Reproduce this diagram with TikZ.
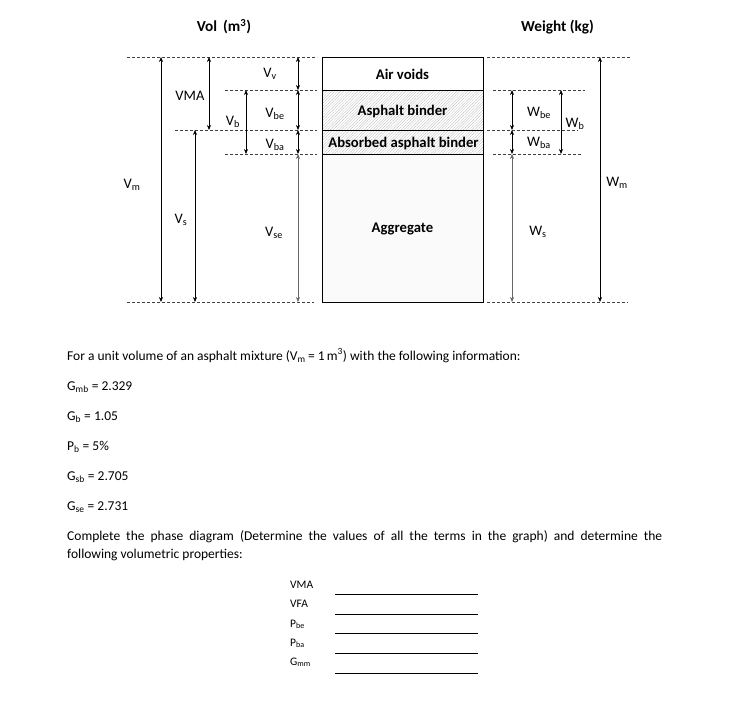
\documentclass[tikz,border=0pt]{standalone}
\usepackage{fontspec}
\setmainfont{Carlito}
\usetikzlibrary{arrows.meta,patterns.meta}
\begin{document}
\begin{tikzpicture}[x=1pt,y=-1pt,
  dashln/.style={draw=black!75,dash pattern=on 3pt off 2pt,line width=0.5pt},
  dim/.style={line width=0.6pt,{Stealth[length=5pt,width=4pt]}-{Stealth[length=5pt,width=4pt]}},
  dimg/.style={dim,draw=black!60,fill=black},
  lbl/.style={font=\fontsize{14.5}{16}\selectfont,inner sep=0pt},
  boxlbl/.style={font=\fontsize{14.7}{16}\selectfont\bfseries,inner sep=0pt},
  hdr/.style={font=\fontsize{15.3}{17}\selectfont\bfseries,inner sep=0pt},
  body/.style={font=\fontsize{13.5}{16}\selectfont,inner sep=0pt,anchor=base west},
  qlbl/.style={font=\fontsize{11.5}{13}\selectfont,inner sep=0pt,anchor=base west},
  answer/.style={line width=0.7pt}
]
\useasboundingbox (0,0) rectangle (740,726);
% headers
\node[hdr] (hvol) at (224,27) {Vol\, (m\textsuperscript{3})};
\node[hdr] (hwt) at (557.5,27) {Weight (kg)};
% level coordinates
\def\ya{57}\def\yb{90}\def\yc{130}\def\yd{154}\def\ye{302}
% box
\fill[white] (322,\ya) rectangle (483,\yb);
\path[pattern={Lines[angle=45,distance=2pt,line width=0.3pt]},pattern color=black!28] (322,\yb) rectangle (483,\yd);
\path[pattern={Dots[radius=0.3pt,distance=2pt]},pattern color=black!22] (322,\yd) rectangle (483,\ye);
\draw[line width=0.8pt] (322,\ya) rectangle (483,\ye);
\draw[line width=0.8pt] (322,\yb) -- (483,\yb);
\draw[line width=0.8pt] (322,\yc) -- (483,\yc);
\draw[line width=0.8pt] (322,\yd) -- (483,\yd);
\node[boxlbl] (air) at (402.5,74) {Air voids};
\node[boxlbl] (bind) at (402.5,111) {Asphalt binder};
\node[boxlbl] (abs) at (403.5,143) {Absorbed asphalt binder};
\node[boxlbl] (agg) at (402.5,229) {Aggregate};
% dashed level lines, left
\draw[dashln] (127,\ya) -- (317,\ya);
\draw[dashln] (225,\yb) -- (317,\yb);
\draw[dashln] (175,\yc) -- (317,\yc);
\draw[dashln] (225,\yd) -- (317,\yd);
\draw[dashln] (127,\ye) -- (314,\ye);
% dashed level lines, right
\draw[dashln] (487,\ya) -- (630,\ya);
\draw[dashln] (493,\yb) -- (585,\yb);
\draw[dashln] (487,\yc) -- (578,\yc);
\draw[dashln] (493,\yd) -- (582,\yd);
\draw[dashln] (487,\ye) -- (628,\ye);
% coordinates for dimension lines
\coordinate (vmT) at (161,\ya); \coordinate (vmB) at (161,\ye);
\coordinate (vmaT) at (209,\ya); \coordinate (vmaB) at (209,\yc);
\coordinate (vsT) at (195,\yc); \coordinate (vsB) at (195,\ye);
\coordinate (vbT) at (246,\yb); \coordinate (vbB) at (246,\yd);
\coordinate (c1) at (298,\ya); \coordinate (c2) at (298,\yb);
\coordinate (c3) at (298,\yc); \coordinate (c4) at (298,\yd);
\coordinate (c5) at (298,\ye);
\coordinate (w2) at (512,\yb); \coordinate (w3) at (512,\yc);
\coordinate (w4) at (512,\yd); \coordinate (w5) at (512,\ye);
\coordinate (wbT) at (561,\yb); \coordinate (wbB) at (561,\yd);
\coordinate (wmT) at (600,\ya); \coordinate (wmB) at (600,\ye);
% dimension lines
\draw[dim] (vmT) -- (vmB);
\draw[dim] (vmaT) -- (vmaB);
\draw[dim] (vsT) -- (vsB);
\draw[dim] (vbT) -- (vbB);
\draw[dim] (c1) -- (c2);
\draw[dim] (c2) -- (c3);
\draw[dim] (c3) -- (c4);
\draw[dimg] (c4) -- (c5);
\draw[dim] (w2) -- (w3);
\draw[dim] (w3) -- (w4);
\draw[dimg] (w4) -- (w5);
\draw[dim] (wbT) -- (wbB);
\draw[dim] (wmT) -- (wmB);
% labels
\node[lbl] (lvm) at (132,185) {V\textsubscript{m}};
\node[lbl] (lvma) at (190,96) {VMA};
\node[lbl] (lvs) at (181,220) {V\textsubscript{s}};
\node[lbl] (lvb) at (233,122) {V\textsubscript{b}};
\node[lbl] (lvv) at (270,74) {V\textsubscript{v}};
\node[lbl] (lvbe) at (275,114) {V\textsubscript{be}};
\node[lbl] (lvba) at (275,145) {V\textsubscript{ba}};
\node[lbl] (lvse) at (274,233) {V\textsubscript{se}};
\node[lbl] (lwbe) at (539,113) {W\textsubscript{be}};
\node[lbl] (lwba) at (539,143) {W\textsubscript{ba}};
\node[lbl] (lws) at (538,232) {W\textsubscript{s}};
\node[lbl] (lwb) at (575,124) {W\textsubscript{b}};
\node[lbl] (lwm) at (617,183) {W\textsubscript{m}};
% body text
\node[body] (t1) at (67,360) {For a unit volume of an asphalt mixture (V\textsubscript{m}\,= 1\,m\textsuperscript{3}) with the following information:};
\node[body] (t2) at (67,390) {G\textsubscript{mb} = 2.329};
\node[body] (t3) at (67,420) {G\textsubscript{b} = 1.05};
\node[body] (t4) at (67,450) {P\textsubscript{b} = 5\%};
\node[body] (t5) at (67,480) {G\textsubscript{sb} = 2.705};
\node[body] (t6) at (67,510) {G\textsubscript{se} = 2.731};
\node[body] (t7) at (67,540) {\makebox[595pt][s]{Complete the phase diagram (Determine the values of all the terms in the graph) and determine the}};
\node[body] (t8) at (67,558) {following volumetric properties:};
% answer list
\node[qlbl] (q1) at (290,588) {VMA};
\node[qlbl] (q2) at (290,607) {VFA};
\node[qlbl] (q3) at (290,627) {P\textsubscript{be}};
\node[qlbl] (q4) at (290,646) {P\textsubscript{ba}};
\node[qlbl] (q5) at (290,665) {G\textsubscript{mm}};
\coordinate (a1l) at (335,594); \coordinate (a1r) at (478,594);
\coordinate (a2l) at (335,614); \coordinate (a2r) at (478,614);
\coordinate (a3l) at (335,633); \coordinate (a3r) at (478,633);
\coordinate (a4l) at (335,653); \coordinate (a4r) at (478,653);
\coordinate (a5l) at (335,673); \coordinate (a5r) at (478,673);
\draw[answer] (a1l) -- (a1r);
\draw[answer] (a2l) -- (a2r);
\draw[answer] (a3l) -- (a3r);
\draw[answer] (a4l) -- (a4r);
\draw[answer] (a5l) -- (a5r);
\end{tikzpicture}
\end{document}
